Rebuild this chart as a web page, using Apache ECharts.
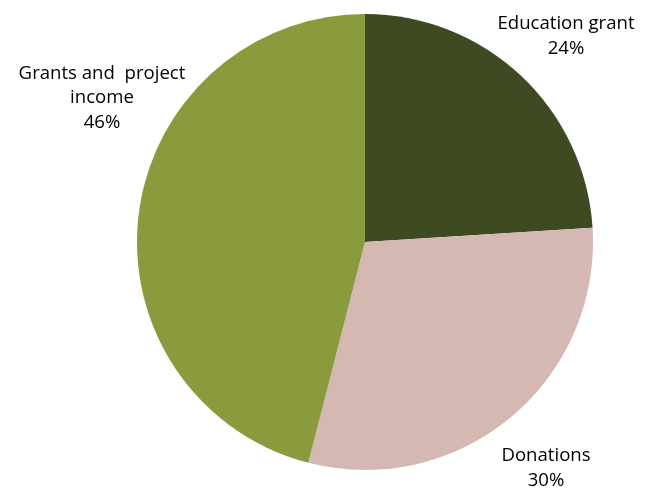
<!DOCTYPE html>
<html>
<head>
<meta charset="utf-8">
<script src="https://cdn.jsdelivr.net/npm/echarts@6/dist/echarts.min.js"></script>
<style>html,body{margin:0;padding:0;background:#fff}#c{width:646px;height:489px}</style>
</head>
<body>
<div id="c"></div>
<script>
const categories = ['Education grant', 'Donations', 'Grants and  project\nincome'];
const values = [24, 30, 46];
const colors = ['#3E4A21', '#D4B8B1', '#8A9B3D'];
const labelPos = [[566, 36], [546, 468], [102, 98]];

const chart = echarts.init(document.getElementById('c'), null, {renderer: 'canvas'});
chart.setOption({
  animation: false,
  series: [{
    type: 'pie',
    center: [365, 242],
    radius: [0, 228],
    startAngle: 90,
    clockwise: true,
    data: categories.map((n, i) => ({name: n, value: values[i], itemStyle: {color: colors[i]}})),
    label: {
      show: true,
      position: 'outside',
      formatter: p => p.name + '\n' + p.value + '%',
      fontFamily: 'Open Sans',
      fontSize: 18.6,
      lineHeight: 24.5,
      color: '#000',
      align: 'center',
      overflow: 'none',
      width: 300
    },
    labelLine: {show: false},
    labelLayout: p => ({
      x: labelPos[p.dataIndex][0],
      y: labelPos[p.dataIndex][1],
      align: 'center',
      verticalAlign: 'middle',
      width: 300
    })
  }]
});
</script>
</body>
</html>
